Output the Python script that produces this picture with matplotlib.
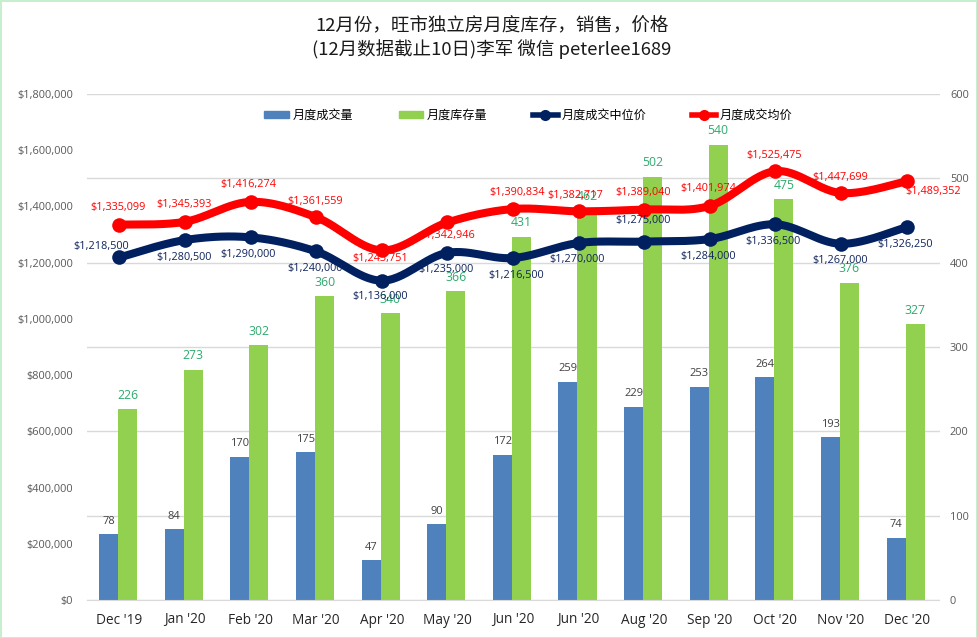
import numpy as np
import matplotlib
matplotlib.use("Agg")
import matplotlib.pyplot as plt
from matplotlib.lines import Line2D
from matplotlib.patches import Patch

plt.rcParams['font.family'] = ['Open Sans', 'Noto Sans CJK SC', 'DejaVu Sans']

months = ["Dec '19", "Jan '20", "Feb '20", "Mar '20", "Apr '20", "May '20", "Jun '20",
          "Jun '20", "Aug '20", "Sep '20", "Oct '20", "Nov '20", "Dec '20"]
sales = [78, 84, 170, 175, 47, 90, 172, 259, 229, 253, 264, 193, 74]
inventory = [226, 273, 302, 360, 340, 366, 431, 462, 502, 540, 475, 376, 327]
median_price = [1218500, 1280500, 1290000, 1240000, 1136000, 1235000, 1216500,
                1270000, 1275000, 1284000, 1336500, 1267000, 1326250]
mean_price = [1335099, 1345393, 1416274, 1361559, 1243751, 1342946, 1390834,
              1382717, 1389040, 1401974, 1525475, 1447699, 1489352]
title_text = "12月份，旺市独立房月度库存，销售，价格\n(12月数据截止10日)李军 微信 peterlee1689"
legend_names = ["月度成交量", "月度库存量", "月度成交中位价", "月度成交均价"]

# label offsets from their points, in pixels (dx, dy up)
mean_off = [(-1,17),(-1,17),(-2,17),(-1,16),(-2,-8),(0,-13),(4,17),(-3,16),(-1,17),(-2,17),(-1,16),(-1,16),(26,-10)]
median_off = [(-18,11),(-1,-17),(-2,-17),(-1,-17),(-2,-16),(-1,-17),(3,-17),(-2,-17),(-1,21),(-2,-17),(-2,-17),(-1,-17),(-2,-17)]

W, H = 977, 638
fig = plt.figure(figsize=(W/100, H/100), dpi=100, facecolor='white')
fig.patch.set_edgecolor('#C6EFCE'); fig.patch.set_linewidth(2)
L, R, T, B = 86.5, 939.5, 94, 600
ax = fig.add_axes([L/W, 1-B/H, (R-L)/W, (B-T)/H])
ax2 = ax.twinx()
ax.set_zorder(ax2.get_zorder()+1)
ax.patch.set_visible(False)
ax2.patch.set_visible(False)

x = np.arange(len(months))
BLUE, GREEN, NAVY, RED = '#4F81BD', '#92D050', '#002060', '#FF0000'

ax2.set_axisbelow(True)
ax2.grid(axis='y', color='#D9D9D9', lw=1)
w = 0.29
ax2.bar(x-w/2-0.017, sales, w, color=BLUE)
ax2.bar(x+w/2-0.017, inventory, w, color=GREEN)
for i in x:
    ax2.annotate(str(sales[i]), (i-w/2-0.017, sales[i]), xytext=(0, 13*.72), textcoords='offset points',
                 ha='center', va='center', fontsize=8, color='#404040')
    ax2.annotate(str(inventory[i]), (i+w/2-0.017, inventory[i]), xytext=(0, 14*.72), textcoords='offset points',
                 ha='center', va='center', fontsize=8.8, color='#2EAA6E')

def smooth(xs, ys, n=30):
    p = np.column_stack([xs, ys]).astype(float)
    q = np.vstack([p[0], p, p[-1]])
    out = []
    t = np.linspace(0, 1, n)[:, None]
    for k in range(len(p)-1):
        a, d = q[k+1], q[k+2]
        b = a + (q[k+2]-q[k])/6
        c = d - (q[k+3]-q[k+1])/6
        out.append((1-t)**3*a + 3*(1-t)**2*t*b + 3*(1-t)*t**2*c + t**3*d)
    o = np.vstack(out)
    return o[:, 0], o[:, 1]

for ys, col, off in [(median_price, NAVY, median_off), (mean_price, RED, mean_off)]:
    sx, sy = smooth(x, ys)
    ax.plot(sx, sy, color=col, lw=5.8, solid_capstyle='round', zorder=3)
    ax.plot(x, ys, 'o', color=col, ms=10.5, mew=0, zorder=4)
    for i, v in enumerate(ys):
        ax.annotate(f"${v:,}", (i, v), xytext=(off[i][0]*.72, off[i][1]*.72), textcoords='offset points',
                    ha='center', va='center', fontsize=7.8, color=col if col == RED else '#10245C', zorder=5,
                    annotation_clip=False)

ax.set_xlim(-0.5, len(months)-0.5)
ax.set_ylim(0, 1800000)
ax2.set_ylim(0, 600)
ax.set_yticks(np.arange(0, 1800001, 200000))
ax.yaxis.set_major_formatter(lambda v, p: f"${int(v):,}")
ax2.set_yticks(np.arange(0, 601, 100))
ax.set_xticks(x)
ax.set_xticklabels(months, fontsize=9.8, color='#262626')
ax.tick_params(axis='x', length=0, pad=9)
ax.tick_params(axis='y', length=0, pad=9.8, labelsize=7.9, labelcolor='#595959')
ax2.tick_params(axis='y', length=0, pad=7.5, labelsize=7.9, labelcolor='#595959')
for a in (ax, ax2):
    for s in a.spines.values():
        s.set_visible(False)
ax2.spines['bottom'].set_visible(True)
ax2.spines['bottom'].set_color('#D9D9D9')

fig.text(492/W, 1-38.5/H, title_text, ha='center', va='center', fontsize=13.3, color='#1A1A1A',
         linespacing=1.25, family=['Noto Sans CJK SC', 'DejaVu Sans'])

handles = [Patch(color=BLUE), Patch(color=GREEN),
           Line2D([], [], color=NAVY, lw=4, marker='o', ms=8, mew=0),
           Line2D([], [], color=RED, lw=4, marker='o', ms=8, mew=0)]
fig.legend(handles, legend_names, ncol=4, frameon=False, loc='center',
           bbox_to_anchor=(528.5/W, 1-115/H), handlelength=2.05, handleheight=0.55,
           handletextpad=0.3, columnspacing=3.75, prop={'family': ['Noto Sans CJK SC'], 'size': 8.7})

fig.savefig('out.png', dpi=100, facecolor=fig.get_facecolor(), edgecolor=fig.get_edgecolor())
